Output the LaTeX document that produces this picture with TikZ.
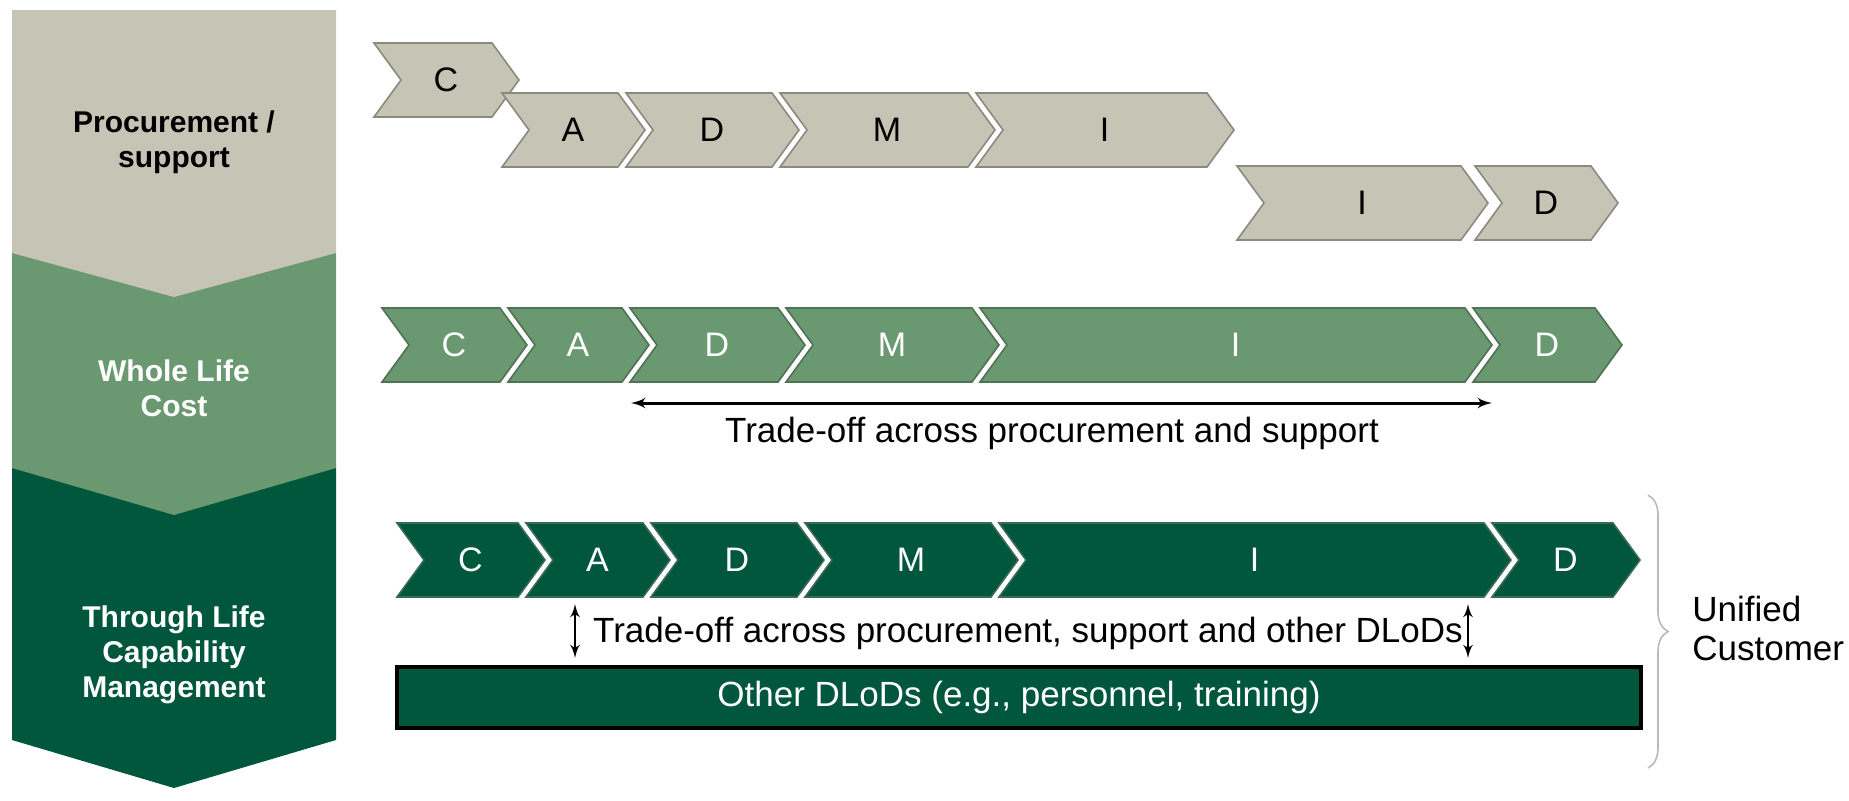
\documentclass[tikz,border=0pt]{standalone}
\usepackage{fontspec}
\setmainfont{Liberation Sans}
\usetikzlibrary{arrows,calc,decorations.pathreplacing,positioning}
\definecolor{PSGray}{HTML}{C5C4B5}
\definecolor{WLGreen}{HTML}{6A9870}
\definecolor{TLDark}{HTML}{00573B}
\tikzset{
    grayphase/.style = {fill=PSGray, draw=PSGray!70!black, text=black},
    wlcphase/.style = {fill=WLGreen, draw=WLGreen!75!black, text=white},
    tlcmphase/.style = {fill=TLDark, draw=TLDark!55!gray, text=white},
    letter/.style = {inner sep=0pt, font=\fontsize{17}{19}\selectfont},
    collabel/.style = {align=center, font=\bfseries\fontsize{15}{17.5}\selectfont},
    trade/.style = {inner sep=0pt, font=\fontsize{17.5}{19.5}\selectfont},
    tradearrow/.style = {draw, <->, line width=1.5pt},
    dlodarrow/.style = {draw, <->, line width=1.3pt},
    otherbox/.style = {draw=black, fill=TLDark, text=white, line width=1.6pt,
        minimum width=622pt, minimum height=30.5pt, inner sep=0pt,
        font=\fontsize{17.5}{19.5}\selectfont},
    custbrace/.style = {draw=gray!55, line width=0.8pt, decorate,
        decoration={brace, amplitude=10pt}}
}
% chevron: style, name, left x, shoulder x, mid y, letter
\newcommand{\chevron}[6]{%
    \filldraw[#1, line width=0.8pt] (#3,#5-37) -- (#4,#5-37) -- (#4+27,#5) -- (#4,#5+37) -- (#3,#5+37) -- (#3+27,#5) -- cycle;
    \node[#1, draw=none, fill=none, letter] (#2) at ({(#3+#4)/2+13},#5) {#6};
}

\begin{document}
\begin{tikzpicture}[x=0.5pt, y=-0.5pt, >=latex']
    \useasboundingbox (0,0) rectangle (1849,800);
    % left column
    \fill[TLDark] (12,468) -- (336,468) -- (336,740) -- (174,788) -- (12,740) -- cycle;
    \fill[WLGreen] (12,253) -- (336,253) -- (336,468) -- (174,515) -- (12,468) -- cycle;
    \fill[PSGray] (12,10) -- (336,10) -- (336,253) -- (174,297) -- (12,253) -- cycle;
    \node[collabel, text=black] (procsupport) at (174,142) {Procurement /\\support};
    \node[collabel, text=white] (wholelife) at (174,388) {Whole Life\\Cost};
    \node[collabel, text=white] (throughlife) at (174,655) {Through Life\\Capability\\Management};

    % procurement / support phases
    \chevron{grayphase}{pC}{374}{492}{80}{C};
    \foreach \nm/\L/\R/\lab in {pA/502/618/A, pD/626/772/D, pM/780/968/M, pI/976/1207/I}
        \chevron{grayphase}{\nm}{\L}{\R}{130}{\lab};
    \chevron{grayphase}{sI}{1237}{1461}{203}{I};
    \chevron{grayphase}{sD}{1475}{1591}{203}{D};

    % whole life cost phases
    \foreach \nm/\L/\R/\lab in {wC/382/500/C, wA/508/622/A, wD/630/778/D, wM/786/972/M, wI/980/1465/I, wE/1473/1595/D}
        \chevron{wlcphase}{\nm}{\L}{\R}{345}{\lab};
    \coordinate (wlcL) at (631,403);
    \coordinate (wlcR) at (1492,403);
    \draw[tradearrow] (wlcL) -- (wlcR);
    \node[trade, anchor=base] (wlctext) at (1052,442) {Trade-off across procurement and support};

    % through life capability management phases
    \foreach \nm/\L/\R/\lab in {tC/397/518/C, tA/526/643/A, tD/651/797/D, tM/805/991/M, tI/999/1484/I, tE/1492/1613/D}
        \chevron{tlcmphase}{\nm}{\L}{\R}{560}{\lab};
    \coordinate (up1) at (575,604);
    \coordinate (dn1) at (575,658);
    \coordinate (up2) at (1468,604);
    \coordinate (dn2) at (1468,658);
    \draw[dlodarrow] (up1) -- (dn1);
    \draw[dlodarrow] (up2) -- (dn2);
    \node[trade, anchor=base] (tlcmtext) at (1028,642) {Trade-off across procurement, support and other DLoDs};
    \node[otherbox] (otherdlods) at (1019,697.5) {Other DLoDs (e.g., personnel, training)};

    % unified customer
    \coordinate (bracetop) at (1648,495);
    \coordinate (bracebot) at (1648,768);
    \draw[custbrace] (bracetop) -- (bracebot);
    \node[trade, anchor=west, align=left] (unified) at (1692,628) {Unified\\Customer};
\end{tikzpicture}
\end{document}
